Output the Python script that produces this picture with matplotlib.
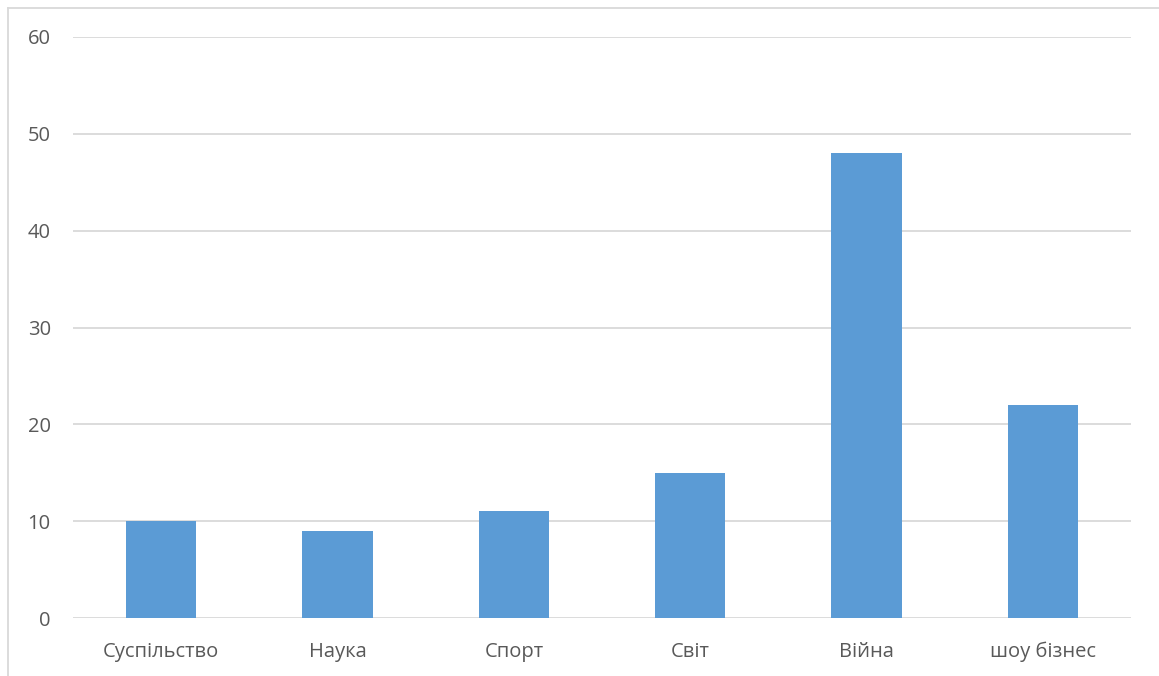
import matplotlib
matplotlib.use('Agg')
import matplotlib.pyplot as plt
from matplotlib.lines import Line2D

categories = ['Суспільство', 'Наука', 'Спорт', 'Світ', 'Війна', 'шоу бізнес']
values = [10, 9, 11, 15, 48, 22]
yticks = [0, 10, 20, 30, 40, 50, 60]

plt.rcParams['font.family'] = ['Open Sans', 'DejaVu Sans']

W, H = 1159, 676
fig = plt.figure(figsize=(W / 100, H / 100), dpi=100)
ax = fig.add_axes([73 / W, 1 - 618 / H, (1131 - 73) / W, (618 - 37) / H])

x = range(len(categories))
ax.bar(x, values, width=0.4, color='#5B9BD5', zorder=3)

ax.set_xlim(-0.5, len(categories) - 0.5)
ax.set_ylim(0, 60)
ax.set_yticks(yticks)
ax.set_xticks(list(x))
ax.set_xticklabels(categories)
ax.yaxis.grid(True, color='#D9D9D9', linewidth=1.3, zorder=0)
for s in ax.spines.values():
    s.set_visible(False)
ax.tick_params(axis='both', length=0, labelsize=14.5, colors='#595959')
ax.tick_params(axis='y', pad=16)
ax.tick_params(axis='x', pad=17)

# chart border (only left and top edges are in view)
fig.add_artist(Line2D([8 / W, 8 / W], [0, 1 - 8 / H], transform=fig.transFigure,
                      color='#D9D9D9', linewidth=1.3))
fig.add_artist(Line2D([8 / W, 1], [1 - 8 / H, 1 - 8 / H], transform=fig.transFigure,
                      color='#D9D9D9', linewidth=1.3))

fig.savefig('out.png', dpi=100)
